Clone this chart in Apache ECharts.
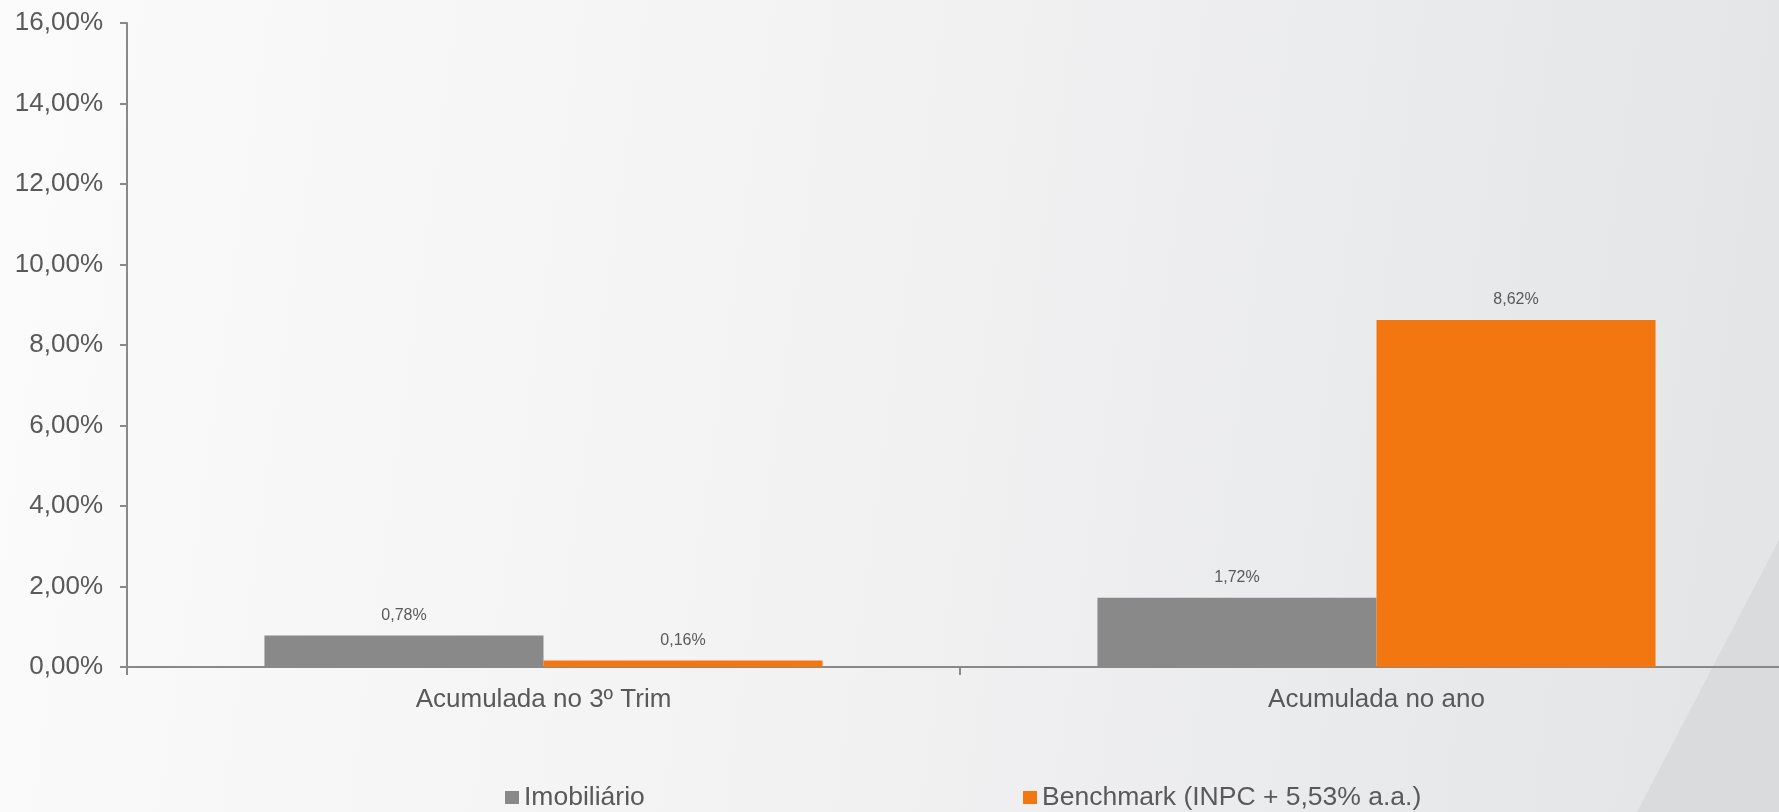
<!DOCTYPE html>
<html>
<head>
<meta charset="utf-8">
<script src="https://cdn.jsdelivr.net/npm/echarts@6/dist/echarts.min.js"></script>
<style>
html,body{margin:0;padding:0;width:1779px;height:812px;overflow:hidden;}
#chart{width:1779px;height:812px;}
</style>
</head>
<body>
<div id="chart"></div>
<script>
const categories = ['Acumulada no 3º Trim', 'Acumulada no ano'];
const seriesNames = ['Imobiliário', 'Benchmark (INPC + 5,53% a.a.)'];
const imobiliario = [0.78, 1.72];
const benchmark = [0.16, 8.62];
const yTicks = [0, 2, 4, 6, 8, 10, 12, 14, 16];

const fmt = v => v.toFixed(2).replace('.', ',') + '%';
const font = '"Liberation Sans", Arial, sans-serif';
const textColor = '#595959';
const axisColor = '#898989';

const chart = echarts.init(document.getElementById('chart'));
chart.setOption({
  animation: false,
  backgroundColor: {
    type: 'linear', x: 0, y: 0, x2: 1, y2: 0.3,
    colorStops: [
      {offset: 0, color: '#fbfbfb'},
      {offset: 0.5, color: '#f2f2f3'},
      {offset: 1, color: '#e4e5e7'}
    ]
  },
  graphic: [{
    type: 'polygon',
    silent: true,
    z: -10,
    shape: {points: [[1779, 540], [1637, 812], [1779, 812]]},
    style: {fill: '#dadbdc'}
  }],
  grid: {left: 127, width: 1666, top: 23, bottom: 145, containLabel: false, outerBoundsMode: 'none'},
  legend: [{
    data: [seriesNames[0]],
    left: 505, top: 784, padding: 0,
    icon: 'rect', itemWidth: 14, itemHeight: 13,
    textStyle: {fontFamily: font, fontSize: 26.5, color: textColor}
  }, {
    data: [seriesNames[1]],
    left: 1023, top: 784, padding: 0,
    icon: 'rect', itemWidth: 14, itemHeight: 13,
    textStyle: {fontFamily: font, fontSize: 26.5, color: textColor}
  }],
  xAxis: {
    type: 'category',
    data: categories,
    axisLine: {lineStyle: {color: axisColor, width: 2}},
    axisTick: {show: true, length: 8, lineStyle: {color: axisColor, width: 2}},
    axisLabel: {fontFamily: font, fontSize: 26, color: textColor, margin: 20}
  },
  yAxis: {
    type: 'value',
    min: yTicks[0], max: yTicks[yTicks.length - 1], interval: 2,
    axisLine: {show: true, lineStyle: {color: axisColor, width: 2}},
    axisTick: {show: true, length: 7, lineStyle: {color: axisColor, width: 2}},
    splitLine: {show: false},
    axisLabel: {fontFamily: font, fontSize: 26, color: textColor, margin: 24, formatter: fmt}
  },
  series: [{
    name: seriesNames[0],
    type: 'bar',
    data: imobiliario,
    barGap: '0%',
    barCategoryGap: '33%',
    itemStyle: {color: '#898989'},
    label: {show: true, position: 'top', distance: 12, fontFamily: font, fontSize: 16, color: textColor, formatter: p => fmt(p.value)}
  }, {
    name: seriesNames[1],
    type: 'bar',
    data: benchmark,
    itemStyle: {color: '#f37710'},
    label: {show: true, position: 'top', distance: 12, fontFamily: font, fontSize: 16, color: textColor, formatter: p => fmt(p.value)}
  }]
});
</script>
</body>
</html>
